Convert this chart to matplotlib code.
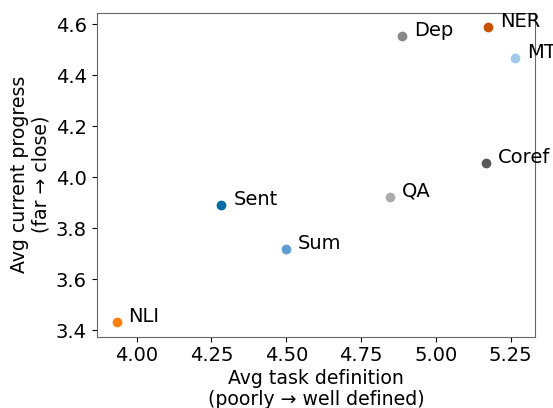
import matplotlib
matplotlib.use("Agg")
import matplotlib.pyplot as plt

tasks = ["NLI", "Sent", "Sum", "QA", "Dep", "Coref", "NER", "MT"]
task_definition = [3.933, 4.283, 4.500, 4.846, 4.888, 5.167, 5.176, 5.265]
current_progress = [3.433, 3.890, 3.719, 3.923, 4.554, 4.055, 4.587, 4.469]
colors = ["#FF800E", "#006BA4", "#5F9ED1", "#ABABAB", "#898989", "#595959", "#C85200", "#A2C8EC"]

fig = plt.figure(figsize=(5.53, 4.08), dpi=100)
ax = fig.add_axes([0.1749, 0.1748, 0.9675 - 0.1749, 0.9689 - 0.1748])

for name, x, y, c in zip(tasks, task_definition, current_progress, colors):
    ax.scatter(x, y, color=c, s=36, zorder=3)
    ax.text(x + 0.04, y, name, fontsize=14, clip_on=False)

ax.set_xlabel("Avg task definition\n(poorly \u2192 well defined)", fontsize=13.6,
              labelpad=2.5, linespacing=1.15)
ax.set_ylabel("Avg current progress\n(far \u2192 close)", fontsize=13.6,
              labelpad=4, linespacing=1.15)
ax.tick_params(labelsize=14)
ax.set_xticks([4.0, 4.25, 4.5, 4.75, 5.0, 5.25])
ax.set_yticks([3.4, 3.6, 3.8, 4.0, 4.2, 4.4, 4.6])
for s in ax.spines.values():
    s.set_color("#666666")

fig.savefig("out.png", dpi=100)
